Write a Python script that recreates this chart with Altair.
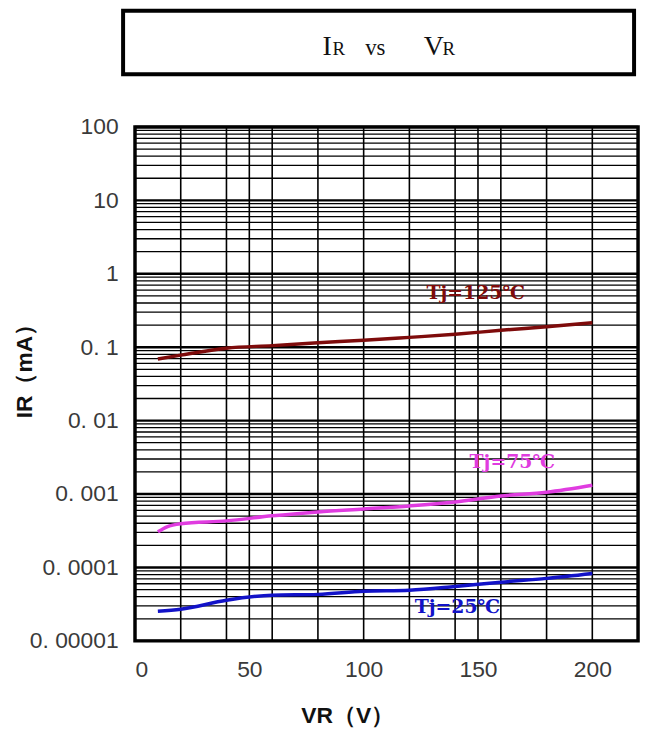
import altair as alt
import pandas as pd

# ---- data ----
vr_125 = [10, 20, 40, 60, 80, 100, 120, 140, 160, 180, 200]
ir_125 = [0.069, 0.078, 0.097, 0.105, 0.115, 0.124, 0.136, 0.150, 0.170, 0.190, 0.215]

vr_75 = [10, 14, 20, 40, 60, 80, 100, 120, 140, 160, 180, 200]
ir_75 = [0.000306, 0.000358, 0.000394, 0.000431, 0.000505, 0.000571, 0.000627,
         0.000689, 0.00078, 0.00094, 0.00106, 0.00132]

vr_25 = [10, 20, 40, 60, 80, 100, 120, 140, 160, 180, 200]
ir_25 = [2.54e-5, 2.7e-5, 3.58e-5, 4.19e-5, 4.3e-5, 4.74e-5, 4.9e-5, 5.5e-5,
         6.3e-5, 7.1e-5, 8.3e-5]

series_names = ["Tj=125℃", "Tj=75℃", "Tj=25℃"]
series_colors = ["#7E0B0B", "#E03CE0", "#1212C8"]

label_x = [149, 165, 141]
label_y = [0.54, 0.0027, 2.9e-5]

x_ticks = [0, 50, 100, 150, 200]
x_grid = [20, 40, 50, 60, 80, 100, 120, 140, 150, 160, 180, 200]
y_decades = [1e-5, 1e-4, 1e-3, 1e-2, 1e-1, 1, 10, 100]
y_tick_labels = ["0. 00001", "0. 0001", "0. 001", "0. 01", "0. 1", "1", "10", "100"]
mantissas = [2, 3, 4, 5, 6, 7, 8, 9]
y_minor = [float(f"{m}e{k}") for k in range(-5, 2) for m in mantissas]

title_parts = ["I", "R", "vs", "V", "R"]

# ---- tables ----
rows = []
for name, xs, ys in zip(series_names, [vr_125, vr_75, vr_25], [ir_125, ir_75, ir_25]):
    for a, b in zip(xs, ys):
        rows.append({"VR": a, "IR": b, "Tj": name})
df = pd.DataFrame(rows)
df_lab = pd.DataFrame({"VR": label_x, "IR": label_y, "Tj": series_names})

W, H = 507, 518
xs = alt.Scale(domain=[0, 220], nice=False, zero=False)
ys = alt.Scale(type="log", domain=[1e-5, 100], nice=False)
cs = alt.Scale(domain=series_names, range=series_colors)

label_expr = "[" + ",".join(f"'{t}'" for t in y_tick_labels) + "][round(log(datum.value)/LN10)+5]"

minor = alt.Chart(pd.DataFrame({"y": y_minor})).mark_rule(color="black", strokeWidth=1.3).encode(
    y=alt.Y("y:Q", scale=ys,
            axis=alt.Axis(values=y_decades, labelExpr=label_expr, title="IR（mA）",
                          grid=False, ticks=False, domain=False,
                          labelFont="Liberation Sans", labelFontSize=23, labelColor="#3a3a3a",
                          labelPadding=17,
                          titleFont="Liberation Sans", titleFontWeight="bold",
                          titleFontSize=23, titleColor="#111",
                          titleX=-99, titleY=240, titleAngle=-90, titleBaseline="bottom"))
)
decade = alt.Chart(pd.DataFrame({"y": y_decades})).mark_rule(color="black", strokeWidth=2.4).encode(
    y=alt.Y("y:Q", scale=ys)
)
vgrid = alt.Chart(pd.DataFrame({"x": x_grid})).mark_rule(color="black", strokeWidth=1.6).encode(
    x=alt.X("x:Q", scale=xs,
            axis=alt.Axis(values=x_ticks, title="VR（V）", grid=False, ticks=False, domain=False,
                          labelFont="Liberation Sans", labelFontSize=23, labelColor="#3a3a3a",
                          labelPadding=18,
                          titleFont="Liberation Sans", titleFontWeight="bold",
                          titleFontSize=23, titleColor="#111",
                          titleX=214, titleY=64, titleAnchor="middle", titleAlign="center"))
)

lines = alt.Chart(df).mark_line(strokeWidth=3.5, interpolate="monotone").encode(
    x=alt.X("VR:Q", scale=xs),
    y=alt.Y("IR:Q", scale=ys),
    color=alt.Color("Tj:N", scale=cs, legend=None),
    detail="Tj:N",
)
labels = alt.Chart(df_lab).mark_text(font="DejaVu Serif", fontWeight="bold", fontSize=19,
                                     align="center", baseline="middle").encode(
    x=alt.X("VR:Q", scale=xs),
    y=alt.Y("IR:Q", scale=ys),
    text="Tj:N",
    color=alt.Color("Tj:N", scale=cs, legend=None),
)

one = pd.DataFrame({"a": [0]})
box = alt.Chart(one).mark_rect(fill="white", stroke="black", strokeWidth=4).encode(
    x=alt.value(-12), x2=alt.value(503), y=alt.value(-117), y2=alt.value(-53)
)
title_x = [189, 199, 232, 291, 310]
title_sizes = [28, 19, 23, 28, 19]
title_layers = [
    alt.Chart(one).mark_text(text=t, font="Liberation Serif", fontSize=s, align="left",
                             baseline="alphabetic", color="#111").encode(
        x=alt.value(px), y=alt.value(-72))
    for t, px, s in zip(title_parts, title_x, title_sizes)
]

chart = alt.layer(minor, decade, vgrid, lines, labels, box, *title_layers).properties(
    width=W, height=H,
    autosize=alt.AutoSizeParams(type="none"),
    padding={"left": 128, "top": 117, "right": 5, "bottom": 92},
).configure_view(stroke="black", strokeWidth=3.5)

chart.save("out.html", embed_options={"renderer": "svg", "actions": False})
